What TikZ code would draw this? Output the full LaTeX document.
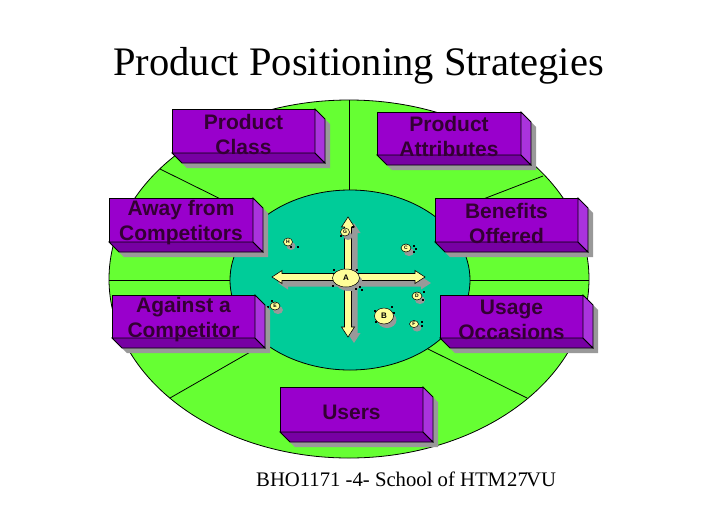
\documentclass[tikz,border=0pt]{standalone}
\usepackage{fontspec}
\setmainfont{Liberation Serif}
\newfontfamily\arialfam{Liberation Sans}
\usetikzlibrary{shapes.geometric}
\definecolor{outergreen}{HTML}{66FF33}
\definecolor{innerteal}{HTML}{00CC99}
\definecolor{boxfrontc}{HTML}{9900CC}
\definecolor{boxbottomc}{HTML}{7700A3}
\definecolor{boxsidec}{HTML}{AA33DD}
\definecolor{shadowgray}{HTML}{999999}
\definecolor{ptyellow}{HTML}{FFFF99}
\definecolor{txtpurple}{HTML}{330033}
\tikzset{
  outline/.style={draw=black, line width=0.8pt},
  boxtext/.style={font=\arialfam\bfseries\fontsize{21}{25}\selectfont, text=txtpurple, align=center, inner sep=0pt},
  ptnode/.style={ellipse, draw=black, line width=0.5pt, fill=ptyellow, inner sep=0pt, text=black},
  handle/.style={fill=black},
  radial/.style={draw=black, line width=0.8pt},
  blockarrow/.style={fill=ptyellow, draw=black, line width=0.6pt},
  arrowshadow/.style={fill=shadowgray},
}
% 3D box: name, x1, y1, x2, y2, text
\newcommand\pbox[6]{%
  \fill[shadowgray] ({#2+5},{#3+5}) -- ({#4+5},{#3+5}) -- ({#4+15},{#3+15}) -- ({#4+15},{#5+15}) -- ({#2+15},{#5+15}) -- ({#2+5},{#5+5}) -- cycle;
  \filldraw[fill=boxfrontc, outline] (#2,#3) rectangle (#4,#5);
  \filldraw[fill=boxbottomc, outline] (#2,#5) -- (#4,#5) -- ({#4+10},{#5+10}) -- ({#2+10},{#5+10}) -- cycle;
  \filldraw[fill=boxsidec, outline] (#4,#3) -- ({#4+10},{#3+10}) -- ({#4+10},{#5+10}) -- (#4,#5) -- cycle;
  \node[boxtext] (#1) at ({(#2+#4)/2},{(#3+#5)/2+3}) {#6};
}
% point: name, x, y, rx, ry, letter, font size
\newcommand\ppoint[7]{%
  \fill[shadowgray] ({#2+3},{#3+4}) ellipse [x radius=#4, y radius=#5];
  \node[ptnode, minimum width={2*#4 pt}, minimum height={2*#5 pt}, font=\arialfam\bfseries\fontsize{#7}{#7}\selectfont] (#1) at (#2,#3) {#6};
}
\newcommand\hdl[2]{\fill[handle] ({#1-1},{#2-1}) rectangle ({#1+1},{#2+1});}
\begin{document}
\begin{tikzpicture}[x=1pt,y=-1pt]
\useasboundingbox (0,0) rectangle (728,504);
% outer ring
\filldraw[fill=outergreen, outline] (349,279) ellipse [x radius=240, y radius=179];
% radial dividers
\coordinate (o1) at (349,100); \coordinate (i1) at (349,195);
\coordinate (o2) at (160,169); \coordinate (i2) at (263,220);
\coordinate (o3) at (543,176); \coordinate (i3) at (434,218);
\coordinate (o4) at (109,280); \coordinate (i4) at (235,280);
\coordinate (o5) at (589,280); \coordinate (i5) at (465,280);
\coordinate (o6) at (170,398); \coordinate (i6) at (266,343);
\coordinate (o7) at (527,398); \coordinate (i7) at (428,349);
\foreach \k in {1,...,7} {\draw[radial] (o\k) -- (i\k);}
% inner disk
\filldraw[fill=innerteal, outline] (350,280) ellipse [x radius=120, y radius=90];
% arrow shadows
\begin{scope}[shift={(6,6)}]
\fill[arrowshadow] (272,277) -- (282,270.5) -- (282,273.5) -- (415,273.5) -- (415,270.5) -- (425,277) -- (415,283.5) -- (415,280.5) -- (282,280.5) -- (282,283.5) -- cycle;
\fill[arrowshadow] (348,217) -- (354.5,227) -- (351.5,227) -- (351.5,327) -- (354.5,327) -- (348,337) -- (341.5,327) -- (344.5,327) -- (344.5,227) -- (341.5,227) -- cycle;
\end{scope}
% arrows
\filldraw[blockarrow] (272,277) -- (282,270.5) -- (282,273.5) -- (415,273.5) -- (415,270.5) -- (425,277) -- (415,283.5) -- (415,280.5) -- (282,280.5) -- (282,283.5) -- cycle;
\filldraw[blockarrow] (348,217) -- (354.5,227) -- (351.5,227) -- (351.5,327) -- (354.5,327) -- (348,337) -- (341.5,327) -- (344.5,327) -- (344.5,227) -- (341.5,227) -- cycle;
% points
\ppoint{pA}{346}{278}{13.5}{9}{A}{8}
\hdl{334}{270}\hdl{357}{270}\hdl{333}{286}\hdl{356}{289}\hdl{360}{287}\hdl{362}{290}
\ppoint{pB}{384}{316}{9.5}{8}{B}{8}
\hdl{375}{311}\hdl{392}{307}\hdl{394}{313}\hdl{376}{322}
\ppoint{pC}{406}{248}{5}{4}{C}{5}
\hdl{414}{246}\hdl{416}{249}\hdl{414}{252}
\ppoint{pD}{417}{296}{5}{4}{D}{5}
\hdl{424}{292}\hdl{423}{300}
\ppoint{pE}{275}{306}{5}{4}{E}{5}
\hdl{272}{301}\hdl{268}{307}
\ppoint{pF}{414}{324}{4.5}{3.5}{F}{5}
\hdl{422}{322}\hdl{422}{326}
\ppoint{pG}{345}{232}{4.5}{4}{G}{5}
\hdl{341}{236}\hdl{353}{227}
\ppoint{pH}{288}{242}{4.5}{4}{H}{5}
\hdl{291}{247}\hdl{298}{247}
% boxes
\pbox{bclass}{172}{109}{315}{153}{Product\\Class}
\pbox{battr}{377}{112}{521}{155}{Product\\Attributes}
\pbox{baway}{109}{198}{253}{242}{Away from\\Competitors}
\pbox{bbenef}{435}{198}{578}{242}{Benefits\\Offered}
\pbox{bagainst}{112}{295}{255}{338}{Against a\\Competitor}
\pbox{busage}{440}{295}{583}{338}{Usage\\Occasions}
\pbox{busers}{280}{387}{423}{432}{Users}
% title
\node[font=\fontsize{40.5}{41}\selectfont, anchor=base, inner sep=0pt] (title) at (358.5,75) {Product Positioning Strategies};
% footer
\node[font=\fontsize{20.7}{21}\selectfont, anchor=base west, inner sep=0pt] (foot) at (256,486) {BHO1171 -4- School of HTM};
\node[font=\fontsize{20.7}{21}\selectfont, anchor=base west, inner sep=0pt] (slideno) at (507,486) {27};
\node[font=\fontsize{20.7}{21}\selectfont, anchor=base west, inner sep=0pt] (footvu) at (526,486) {VU};
\end{tikzpicture}
\end{document}
